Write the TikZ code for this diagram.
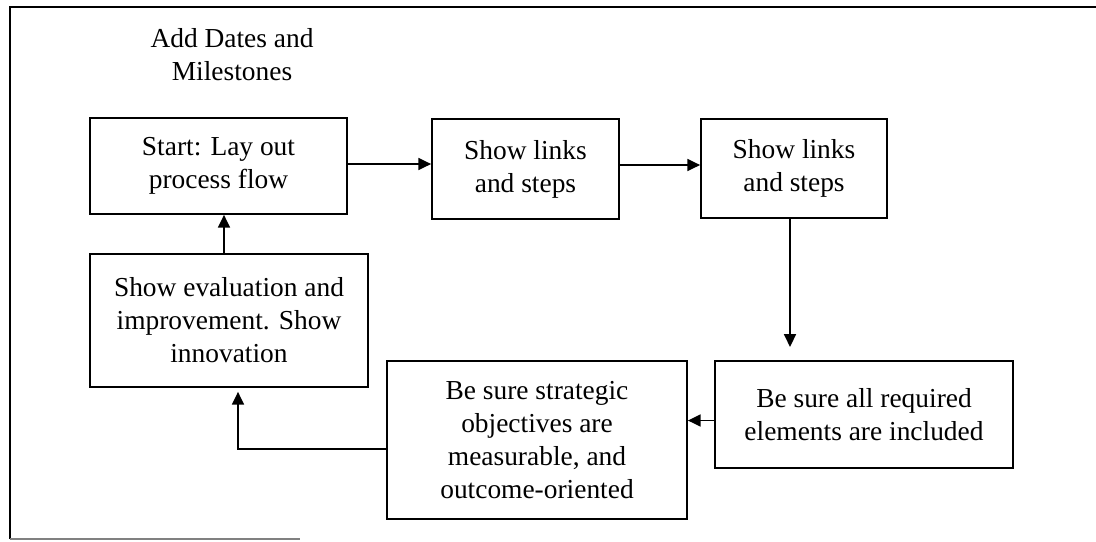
\documentclass[tikz,border=0pt]{standalone}
\usepackage{fontspec}
\setmainfont{Liberation Serif}
\usetikzlibrary{arrows,arrows.meta,shapes}

\begin{document}
\begin{tikzpicture}[x=0.025cm, y=-0.025cm, main node/.style={rectangle, draw, line width=1.2pt, align=center, inner sep=0pt, font=\fontsize{19.5}{23.5}\selectfont}, node/.style={align=center, font=\fontsize{19.5}{23.5}\selectfont}, line/.style={line width=1.2pt, -{Triangle[length=0.32cm, width=0.3cm]}}]
\useasboundingbox (0,0) rectangle (1096,541);
\draw [line width=1.8pt] (10,539) -- (10,7) -- (1096,7);
\draw [gray, line width=1.2pt] (10,539) -- (300,539);
\node[node] (0) at (232,55) {Add Dates and\\Milestones};
\node[main node, minimum width=6.425cm, minimum height=2.4cm] (1) at (218.5,166) {Start: Lay out\\process flow};
\node[main node, minimum width=4.675cm, minimum height=2.5cm] (2) at (525.5,169) {Show links\\and steps};
\node[main node, minimum width=4.65cm, minimum height=2.475cm] (3) at (794,168.5) {Show links\\and steps};
\node[main node, minimum width=7.45cm, minimum height=2.675cm] (4) at (864,414.5) {Be sure all required\\elements are included};
\node[main node, minimum width=7.5cm, minimum height=3.95cm] (5) at (537,440) {Be sure strategic\\objectives are\\measurable, and\\outcome-oriented};
\node[main node, minimum width=6.95cm, minimum height=3.325cm] (6) at (229,320.5) {Show evaluation and\\improvement. Show\\innovation};
\path[line]
([yshift=0.05cm]1.east) edge ([yshift=0.05cm]1.east -| 2.west)
([yshift=0.1cm]2.east) edge ([yshift=0.1cm]2.east -| 3.west)
([yshift=-0.15cm]4.west) edge ([yshift=-0.15cm]4.west -| 5.east)
([xshift=-0.125cm]6.north) edge ([xshift=-0.125cm]6.north |- 1.south);
\draw[line, shorten >=0.33cm] ([xshift=-0.1cm]3.south) -- ([xshift=-0.1cm]3.south |- 4.north);
\draw[line, shorten >=0.1cm] ([yshift=-0.225cm]5.west) -| ([xshift=0.225cm]6.south);
\end{tikzpicture}
\end{document}
